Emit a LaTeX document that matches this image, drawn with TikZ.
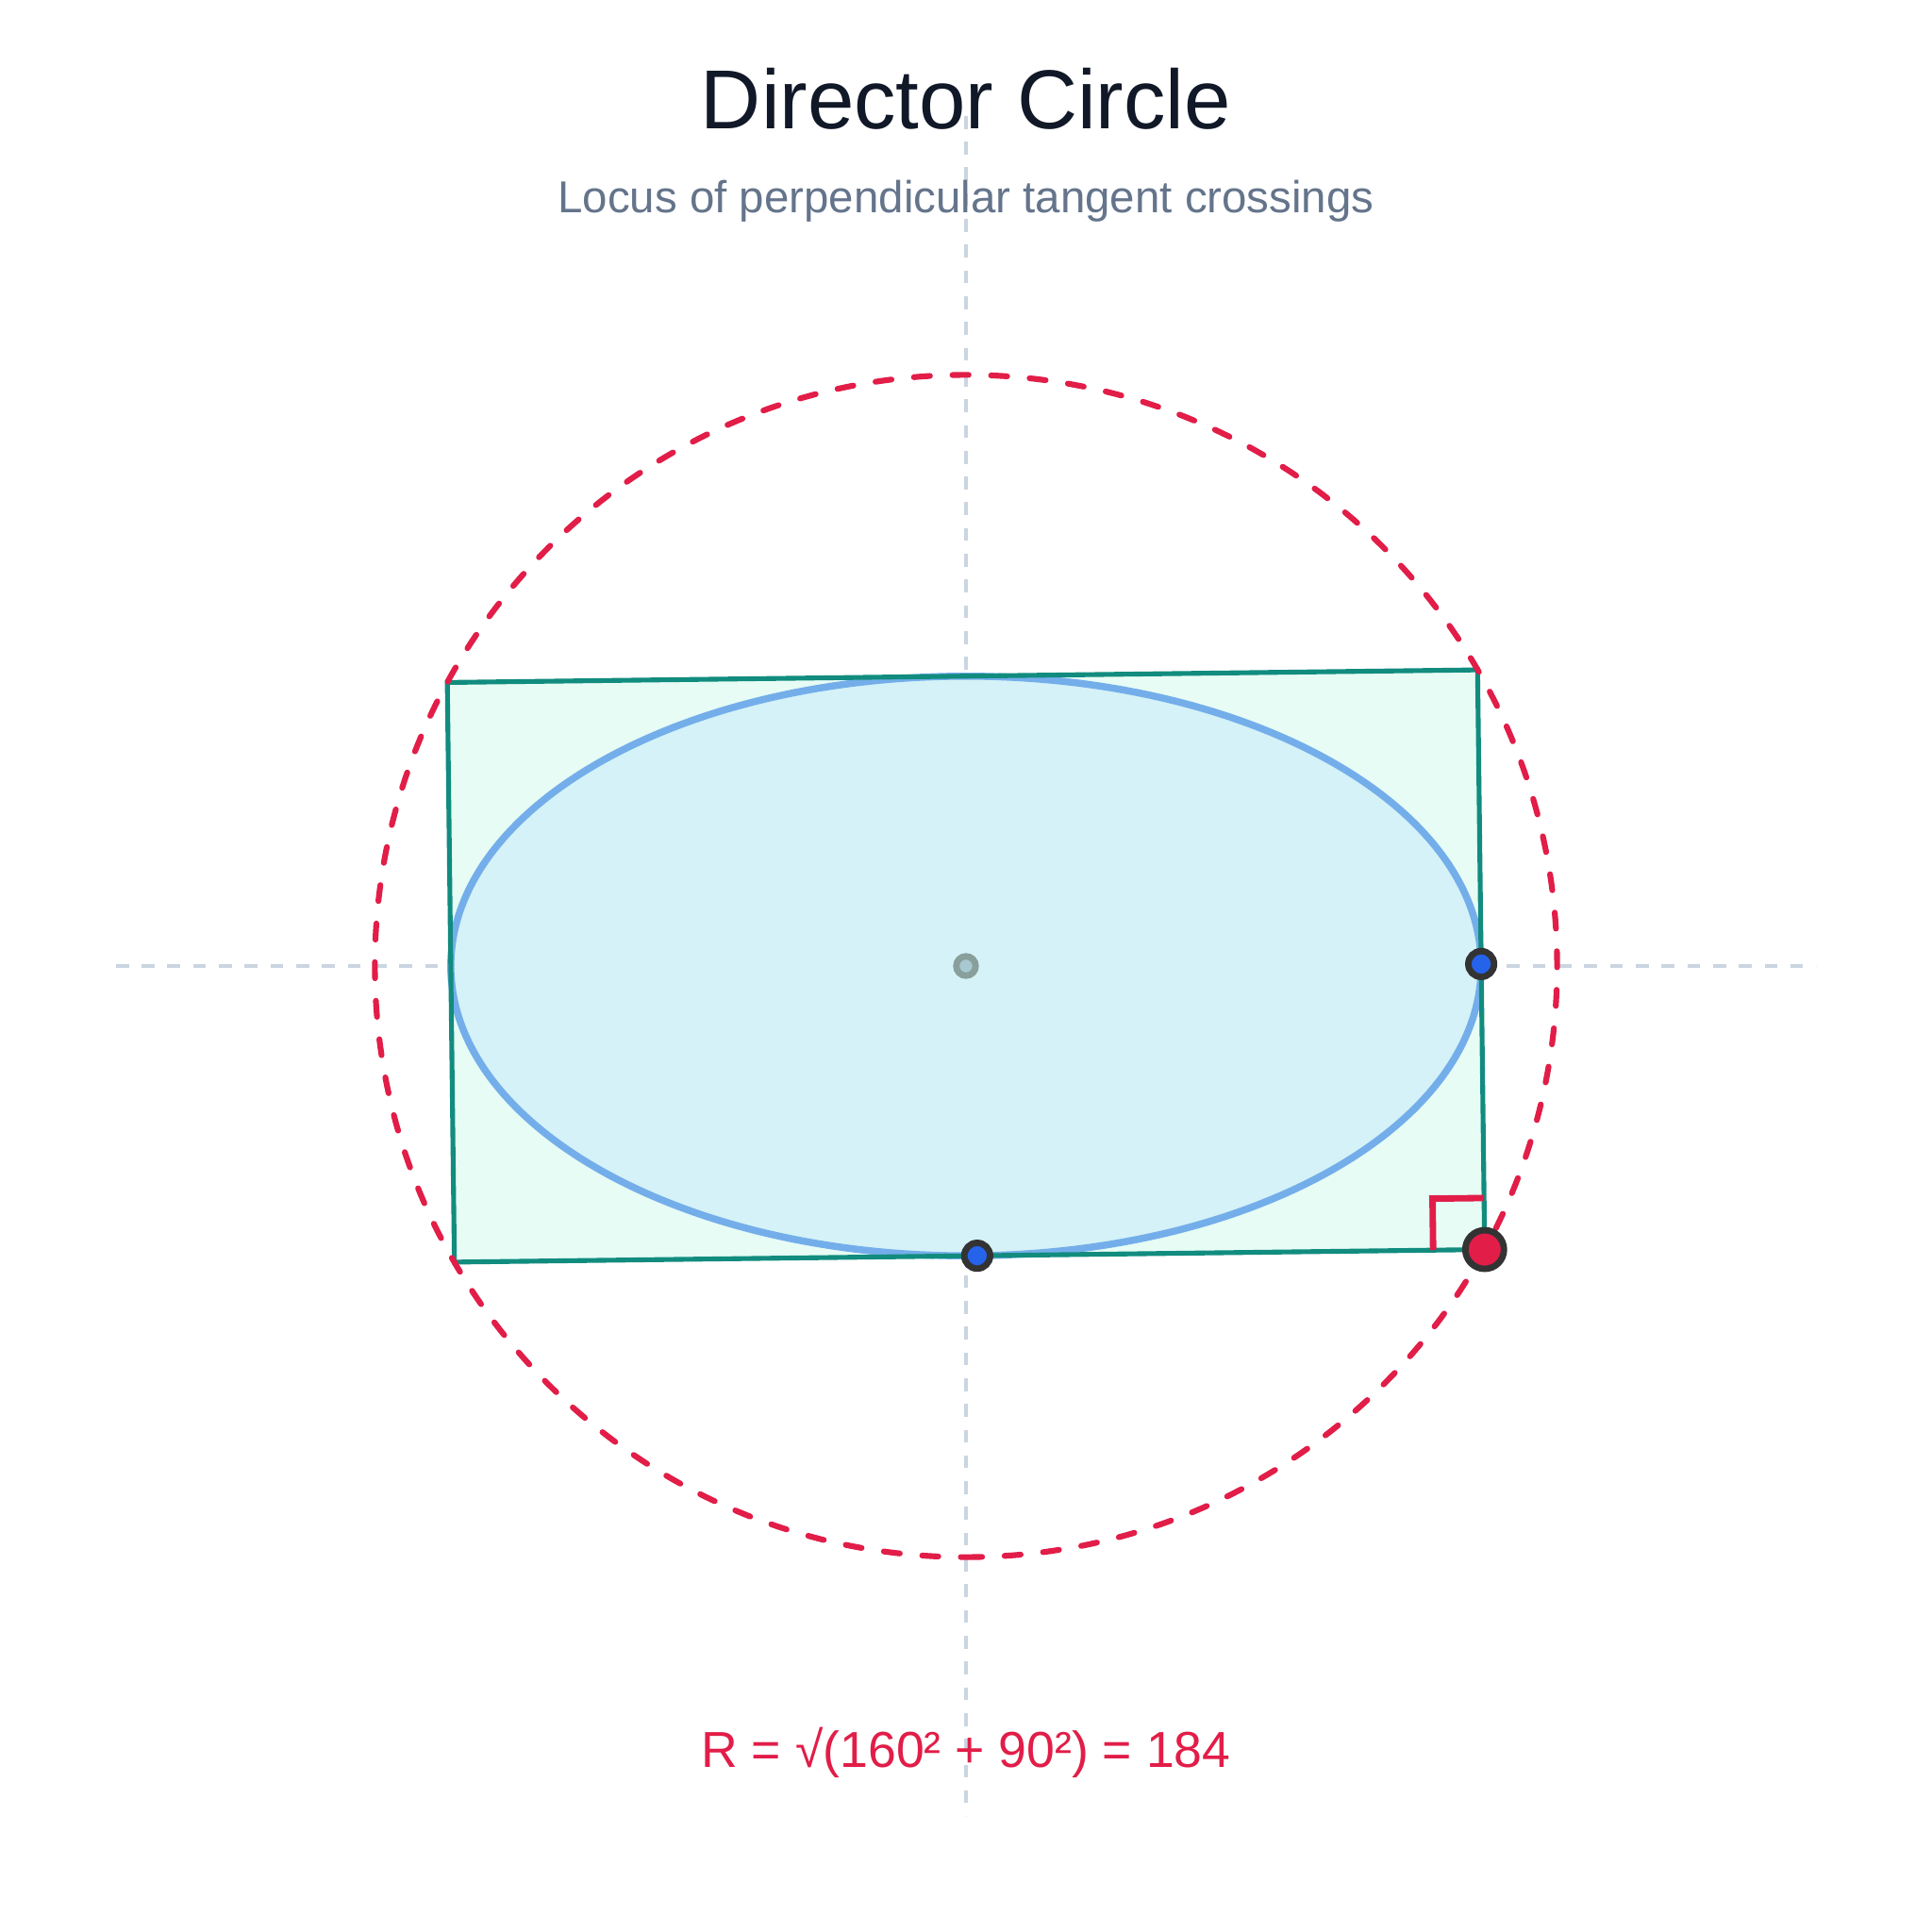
\documentclass[tikz,border=0pt]{standalone}
\usepackage{fontspec}
\setmainfont{Liberation Sans}
\definecolor{titlecol}{RGB}{17,24,39}
\definecolor{subcol}{RGB}{100,116,139}
\definecolor{axiscol}{RGB}{203,213,225}
\definecolor{rosecol}{RGB}{225,29,72}
\definecolor{tealcol}{RGB}{17,140,126}
\definecolor{mintcol}{RGB}{230,252,245}
\definecolor{ellfill}{RGB}{212,242,247}
\definecolor{ellline}{RGB}{116,174,234}
\definecolor{dotblue}{RGB}{37,99,235}
\definecolor{dotring}{RGB}{51,51,51}
\definecolor{cenring}{RGB}{136,159,156}
\definecolor{cenfill}{RGB}{169,201,208}
\tikzset{
  axisline/.style={draw=axiscol, line width=1.2pt, dash pattern=on 4pt off 4pt},
  dircircle/.style={draw=rosecol, line width=1.8pt, line cap=round, dash pattern=on 5pt off 7pt},
  rectline/.style={draw=tealcol, line width=1.5pt, line join=miter},
  ellshape/.style={fill=ellfill, draw=ellline, line width=2.2pt},
  rightmark/.style={draw=rosecol, line width=2pt, line join=miter},
  bluedot/.style={fill=dotblue, draw=dotring, line width=2pt},
  reddot/.style={fill=rosecol, draw=dotring, line width=2pt},
  centerdot/.style={fill=cenfill, draw=cenring, line width=2pt},
  titletext/.style={text=titlecol, font=\fontsize{26}{30}\selectfont, inner sep=0pt, anchor=base},
  subtext/.style={text=subcol, font=\fontsize{13.9}{16}\selectfont, inner sep=0pt, anchor=base},
  formtext/.style={text=rosecol, font=\fontsize{15.7}{19}\selectfont, inner sep=0pt, anchor=base}
}
\begin{document}
\begin{tikzpicture}[x=1pt, y=1pt]
\useasboundingbox (-300,-300) rectangle (300,300);
\fill[white] (-300,-300) rectangle (300,300);
% coordinates
\coordinate (O) at (0,0);
\coordinate (BR) at (161.080,-88.053);
\coordinate (TR) at (158.880,91.962);
\coordinate (TL) at (-161.080,88.053);
\coordinate (BL) at (-158.880,-91.962);
\coordinate (T1) at (159.996,0.6185);
\coordinate (T2) at (3.4745,-89.979);
\coordinate (MA) at (145.081,-88.2485);
\coordinate (MB) at (144.886,-72.250);
\coordinate (MC) at (160.885,-72.054);
\coordinate (AxL) at (-264,0);
\coordinate (AxR) at (264,0);
\coordinate (AxT) at (0,264);
\coordinate (AxB) at (0,-264);
\coordinate (CircBot) at (0,-183.575);
% axes
\draw[axisline] (AxL) -- (AxR);
\draw[axisline] (AxT) -- (AxB);
% tangent rectangle fill
\fill[mintcol] (TL) -- (TR) -- (BR) -- (BL) -- cycle;
% ellipse
\path[ellshape] (O) ellipse[x radius=160, y radius=90];
% rectangle outline
\draw[rectline] (TL) -- (TR) -- (BR) -- (BL) -- cycle;
% director circle
\draw[dircircle] (CircBot) arc[start angle=-90, end angle=270, radius=183.575];
% right angle marker
\draw[rightmark] (MA) -- (MB) -- (MC);
% points
\path[centerdot] (O) circle[radius=3];
\path[bluedot] (T1) circle[radius=4];
\path[bluedot] (T2) circle[radius=4];
\path[reddot] (BR) circle[radius=6];
% texts
\node[titletext] (title) at (0,260) {Director Circle};
\node[subtext] (subtitle) at (0,234) {Locus of perpendicular tangent crossings};
\node[formtext] (formula) at (0,-249) {R = √(160² + 90²) = 184};
\end{tikzpicture}
\end{document}
